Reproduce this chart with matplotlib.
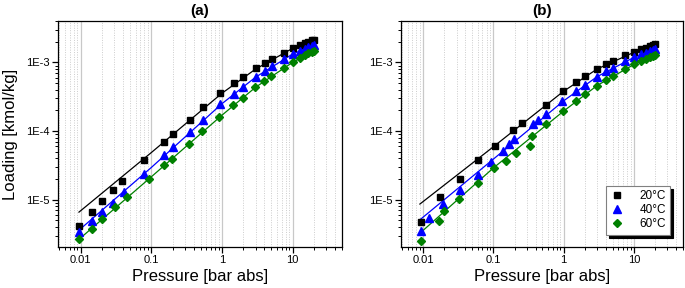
import matplotlib
matplotlib.use("Agg")
import matplotlib.pyplot as plt
import numpy as np
from matplotlib.ticker import LogLocator, FixedLocator, FixedFormatter, NullFormatter

plt.rcParams['font.family'] = ['Liberation Sans', 'DejaVu Sans']

# ---------------- data: panel (a) ----------------
a_p20 = [0.0094, 0.0145, 0.0202, 0.029, 0.039, 0.079, 0.15, 0.20, 0.353, 0.545, 0.95, 1.47, 1.97,
         3.04, 4.04, 5.07, 7.5, 10, 12.7, 15, 16.7, 18.6, 20]
a_q20 = [4.2e-6, 6.6e-6, 9.6e-6, 1.37e-5, 1.87e-5, 3.74e-5, 6.9e-5, 9.2e-5, 1.45e-4, 2.21e-4, 3.54e-4,
         4.94e-4, 6.17e-4, 8.18e-4, 9.87e-4, 1.12e-3, 1.38e-3, 1.60e-3, 1.79e-3, 1.89e-3, 1.99e-3, 2.09e-3, 2.15e-3]
a_p40 = [0.0094, 0.0145, 0.020, 0.029, 0.041, 0.079, 0.15, 0.20, 0.353, 0.545, 0.95, 1.47, 1.97,
         3.04, 4.04, 5.07, 7.5, 10, 12.7, 15, 16.7, 18.6, 20]
a_q40 = [3.42e-6, 4.85e-6, 6.6e-6, 9.0e-6, 1.29e-5, 2.39e-5, 4.5e-5, 5.9e-5, 9.6e-5, 1.45e-4, 2.45e-4,
         3.42e-4, 4.42e-4, 6.17e-4, 7.47e-4, 8.8e-4, 1.12e-3, 1.32e-3, 1.48e-3, 1.56e-3, 1.65e-3, 1.73e-3, 1.79e-3]
a_p60 = [0.0094, 0.0145, 0.020, 0.031, 0.045, 0.093, 0.15, 0.196, 0.345, 0.528, 0.92, 1.45, 1.97,
         2.97, 4.0, 5.0, 7.5, 10, 12.7, 15, 16.7, 18.6, 20]
a_q60 = [2.68e-6, 3.78e-6, 5.24e-6, 7.75e-6, 1.08e-5, 2.02e-5, 3.16e-5, 3.87e-5, 6.48e-5, 9.9e-5, 1.62e-4,
         2.39e-4, 3.02e-4, 4.33e-4, 5.34e-4, 6.3e-4, 8.34e-4, 1.0e-3, 1.17e-3, 1.26e-3, 1.35e-3, 1.41e-3, 1.48e-3]

# fitted model curves (a)
fit_p = [0.0095, 0.1, 1, 3, 10, 20]
a_fit20 = [6.6e-6, 4.85e-5, 3.55e-4, 8.0e-4, 1.6e-3, 2.1e-3]
a_fit40 = [3.6e-6, 2.94e-5, 2.5e-4, 6.1e-4, 1.32e-3, 1.8e-3]
a_fit60 = [2.65e-6, 2.15e-5, 1.7e-4, 4.35e-4, 1.0e-3, 1.48e-3]

# ---------------- data: panel (b) ----------------
b_p20 = [0.0093, 0.0176, 0.0334, 0.061, 0.104, 0.189, 0.256, 0.558, 0.98, 1.48, 2.0, 3.03, 4.02, 5.04,
         7.6, 10.1, 12.8, 15.1, 17.1, 18.9, 20.2]
b_q20 = [4.78e-6, 1.11e-5, 2.0e-5, 3.74e-5, 6.05e-5, 1.03e-4, 1.31e-4, 2.42e-4, 3.78e-4, 5.12e-4, 6.25e-4,
         8.0e-4, 9.35e-4, 1.04e-3, 1.26e-3, 1.41e-3, 1.54e-3, 1.64e-3, 1.71e-3, 1.77e-3, 1.83e-3]
b_p40 = [0.0092, 0.012, 0.019, 0.034, 0.061, 0.094, 0.139, 0.169, 0.199, 0.37, 0.43, 0.564, 0.96, 1.48,
         2.0, 3.03, 4.02, 5.04, 7.6, 10.1, 12.8, 15.1, 17.1, 18.9, 20.2]
b_q40 = [3.54e-6, 5.4e-6, 8.55e-6, 1.38e-5, 2.31e-5, 3.57e-5, 5.12e-5, 6.47e-5, 7.73e-5, 1.28e-4, 1.45e-4,
         1.75e-4, 2.71e-4, 3.78e-4, 4.63e-4, 6.18e-4, 7.39e-4, 8.36e-4, 1.03e-3, 1.18e-3, 1.31e-3, 1.38e-3,
         1.45e-3, 1.51e-3, 1.56e-3]
b_p60 = [0.0093, 0.0166, 0.0198, 0.032, 0.06, 0.103, 0.149, 0.21, 0.33, 0.355, 0.564, 0.98, 1.48, 2.0,
         3.03, 4.02, 5.04, 7.6, 10.1, 12.8, 15.1, 17.1, 18.9, 20.2]
b_q60 = [2.47e-6, 4.94e-6, 6.84e-6, 1.01e-5, 1.73e-5, 2.89e-5, 3.7e-5, 4.73e-5, 6.05e-5, 8.35e-5, 1.27e-4,
         1.93e-4, 2.71e-4, 3.42e-4, 4.57e-4, 5.47e-4, 6.32e-4, 8.0e-4, 9.35e-4, 1.06e-3, 1.13e-3, 1.2e-3,
         1.25e-3, 1.29e-3]

# fitted model curves (b)
b_fit_p = [0.009, 0.1, 1, 3, 10, 20]
b_fit20 = [8.65e-6, 5.9e-5, 3.8e-4, 8.0e-4, 1.4e-3, 1.82e-3]
b_fit40 = [5.1e-6, 3.9e-5, 2.75e-4, 6.2e-4, 1.18e-3, 1.56e-3]
b_fit60 = [3.25e-6, 2.9e-5, 1.95e-4, 4.6e-4, 9.3e-4, 1.3e-3]

series_labels = ['20°C', '40°C', '60°C']
series_colors = ['#000000', '#0000ff', '#008000']
series_markers = ['s', '^', 'D']
marker_sizes = [4.6, 5.2, 4.0]

xtick_vals = [0.01, 0.1, 1, 10]
xtick_labels = ['0.01', '0.1', '1', '10']
ytick_vals = [1e-5, 1e-4, 1e-3]
ytick_labels = ['1E-5', '1E-4', '1E-3']
panel_titles = ['(a)', '(b)']

fig = plt.figure(figsize=(6.85, 2.88), dpi=100)
ax_a = fig.add_axes([0.0847, 0.1424, 0.4146, 0.7846])
ax_b = fig.add_axes([0.585, 0.1424, 0.412, 0.7846])

panels = [
    (ax_a, [(a_p20, a_q20), (a_p40, a_q40), (a_p60, a_q60)], fit_p, [a_fit20, a_fit40, a_fit60]),
    (ax_b, [(b_p20, b_q20), (b_p40, b_q40), (b_p60, b_q60)], b_fit_p, [b_fit20, b_fit40, b_fit60]),
]

for i, (ax, pts, fp, fits) in enumerate(panels):
    ax.set_xscale('log')
    ax.set_yscale('log')
    ax.set_xlim(0.0048, 50)
    ax.set_ylim(2.05e-6, 4.0e-3)
    for (p, q), fq, c, m, ms, lab in zip(pts, fits, series_colors, series_markers, marker_sizes, series_labels):
        ax.plot(fp, fq, '-', color=c, lw=0.9, zorder=3)
        ax.plot(p, q, linestyle='none', marker=m, color=c, ms=ms, mec=c, zorder=4, label=lab)
    ax.xaxis.set_major_locator(FixedLocator(xtick_vals))
    ax.xaxis.set_major_formatter(FixedFormatter(xtick_labels))
    ax.xaxis.set_minor_locator(LogLocator(base=10, subs=np.arange(2, 10), numticks=20))
    ax.xaxis.set_minor_formatter(NullFormatter())
    ax.yaxis.set_major_locator(FixedLocator(ytick_vals))
    ax.yaxis.set_major_formatter(FixedFormatter(ytick_labels))
    ax.yaxis.set_minor_locator(LogLocator(base=10, subs=np.arange(2, 10), numticks=20))
    ax.yaxis.set_minor_formatter(NullFormatter())
    ax.grid(True, which='major', axis='x', color='#c8c8c8', lw=0.9, ls='-', zorder=0)
    ax.grid(True, which='minor', axis='x', color='#cccccc', lw=0.7, ls=(0, (1, 1.5)), zorder=0)
    ax.set_axisbelow(True)
    ax.tick_params(which='major', direction='out', length=4, width=0.9, labelsize=8, pad=2,
                   top=False, right=False)
    ax.tick_params(which='minor', direction='out', length=2.2, width=0.7, top=False, right=False)
    for s in ax.spines.values():
        s.set_linewidth(0.9)
    ax.set_xlabel('Pressure [bar abs]', fontsize=12, labelpad=3)
    ax.set_title(panel_titles[i], fontsize=11, fontweight='bold', pad=4)

ax_a.set_ylabel('Loading [kmol/kg]', fontsize=12, labelpad=6)

leg = ax_b.legend(loc='lower right', bbox_to_anchor=(0.955, 0.055), fontsize=8.5, frameon=True,
                  fancybox=False, shadow={'color': 'black', 'alpha': 1.0, 'ox': 2.2, 'oy': -2.2},
                  handlelength=1.2, handletextpad=1.3, borderpad=0.35, labelspacing=0.18,
                  borderaxespad=0.0)
leg.get_frame().set_edgecolor('#808080')
leg.get_frame().set_linewidth(0.8)

fig.savefig('out.png', dpi=100)
